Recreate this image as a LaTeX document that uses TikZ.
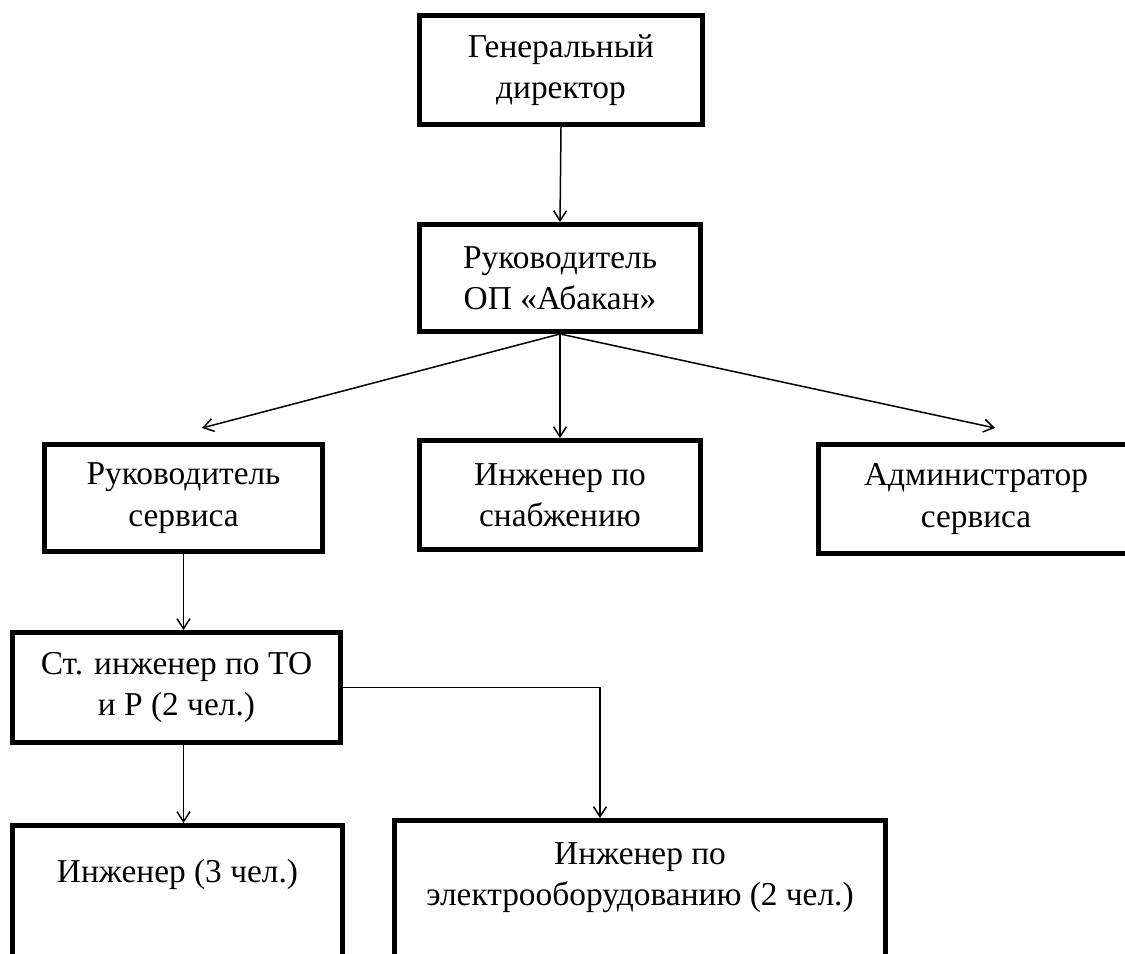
\documentclass[tikz,border=0pt]{standalone}
\usepackage{fontspec}
\setmainfont{Liberation Serif}
\usetikzlibrary{arrows.meta}

\begin{document}
\begin{tikzpicture}[
		box/.style={draw, line width=2.8pt, align=center, inner sep=0pt, font=\fontsize{19}{23.5}\selectfont},
		link/.style={line width=0.85pt, -{Straight Barb[length=2mm,width=2.6mm]}}]
			\path[use as bounding box, clip] (0,0) rectangle (22.5,-19.06);
			\node[box, minimum width=5.66cm, minimum height=2.18cm] (gd) at (11.22,-1.40) {Генеральный\\директор};
			\node[box, minimum width=5.62cm, minimum height=2.14cm] (ruk) at (11.20,-5.56) {Руководитель\\ОП «Абакан»};
			\node[box, minimum width=5.56cm, minimum height=2.14cm] (rs) at (3.67,-9.96) {Руководитель\\сервиса};
			\node[box, minimum width=5.62cm, minimum height=2.18cm] (isn) at (11.20,-9.90) {Инженер по\\снабжению};
			\node[box, minimum width=6.30cm, minimum height=2.18cm] (adm) at (19.52,-9.98) {Администратор\\сервиса};
			\node[box, minimum width=6.56cm, minimum height=2.20cm] (st) at (3.53,-13.75) {Ст. инженер по ТО\\и Р (2 чел.)};
			\node[box, anchor=north, minimum width=6.60cm, inner ysep=0.68cm, text depth=3cm] (ing) at (3.55,-16.46) {Инженер (3 чел.)};
			\node[box, anchor=north, minimum width=9.82cm, inner ysep=0.44cm, text depth=3cm] (ie) at (12.80,-16.36) {Инженер по\\электрооборудованию (2 чел.)};
			\coordinate (rsin) at (4.04,-8.56);
			\coordinate (admin) at (19.90,-8.56);
			\coordinate (ietop) at ([xshift=-0.8cm]ie.north);
			\draw[link] (gd.south) -- (ruk.north);
			\draw[link] (ruk.south) -- (rsin);
			\draw[link] (ruk.south) -- (isn.north);
			\draw[link] (ruk.south) -- (admin);
			\draw[link] (rs.south) -- (rs.south |- st.north);
			\draw[link] (st.south -| rs.south) -- (ing.north -| rs.south);
			\draw[link] (st.east) -| (ietop);
		\end{tikzpicture}
\end{document}
